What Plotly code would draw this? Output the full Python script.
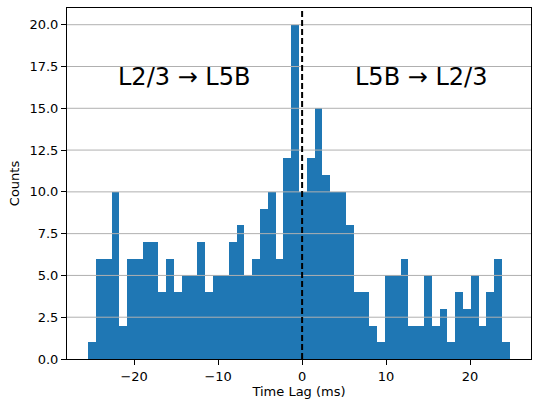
import plotly.graph_objects as go

# Histogram data
bin_start = -25.48
bin_width = 0.930
counts = [1, 6, 6, 10, 2, 6, 6, 7, 7, 4, 6, 4, 5, 5, 7, 4, 5, 5, 7, 8, 5, 6, 9, 10, 6, 12, 20,
          10, 12, 15, 11, 10, 10, 8, 4, 4, 2, 1, 5, 5, 6, 2, 2, 5, 2, 3, 1, 4, 3, 5, 2, 4, 6, 1]
x_ticks = [-20, -10, 0, 10, 20]
y_ticks = [0, 2.5, 5, 7.5, 10, 12.5, 15, 17.5, 20]
labels = ["L2/3 → L5B", "L5B → L2/3"]
label_x = [-14.05, 14.1]
label_y = 16.9

centers = [bin_start + bin_width * (i + 0.5) for i in range(len(counts))]
x_lo = bin_start - 0.05 * bin_width * len(counts)
x_hi = bin_start + bin_width * len(counts) * 1.05

fig = go.Figure()
fig.add_trace(go.Bar(x=centers, y=counts, width=bin_width,
                     marker=dict(color="#1f77b4", line=dict(width=0)),
                     showlegend=False))

# grid drawn above the bars, as in the reference
for v in y_ticks[1:]:
    fig.add_hline(y=v, line=dict(color="#b0b0b0", width=1), layer="above")

fig.add_shape(type="line", x0=0, x1=0, y0=0, y1=1, yref="paper",
              line=dict(color="black", width=2, dash="6px,3px"), layer="above")

for t, xx in zip(labels, label_x):
    fig.add_annotation(x=xx, y=label_y, text=t, showarrow=False,
                       font=dict(size=24, color="black", family="DejaVu Sans"),
                       xanchor="center", yanchor="middle")

fig.update_layout(
    width=533, height=400,
    margin=dict(l=67, r=2, t=8, b=41),
    paper_bgcolor="white", plot_bgcolor="white",
    bargap=0,
    font=dict(family="DejaVu Sans", size=13, color="black"),
)
fig.update_xaxes(range=[x_lo, x_hi], tickvals=x_ticks,
                 ticks="outside", ticklen=5, tickcolor="black",
                 showline=True, linecolor="black", linewidth=1, mirror=True,
                 showgrid=False, zeroline=False,
                 title=dict(text="Time Lag (ms)", font=dict(size=13), standoff=2))
fig.update_yaxes(range=[0, 21], tickvals=y_ticks,
                 ticktext=[f"{v:.1f}" for v in y_ticks],
                 ticks="outside", ticklen=5, tickcolor="black",
                 showline=True, linecolor="black", linewidth=1, mirror=True,
                 showgrid=False, zeroline=False,
                 title=dict(text="Counts", font=dict(size=13), standoff=6))

fig.write_html("out.html", config={"displayModeBar": False},
               post_script="document.body.style.margin='0';document.body.style.overflow='hidden';")
